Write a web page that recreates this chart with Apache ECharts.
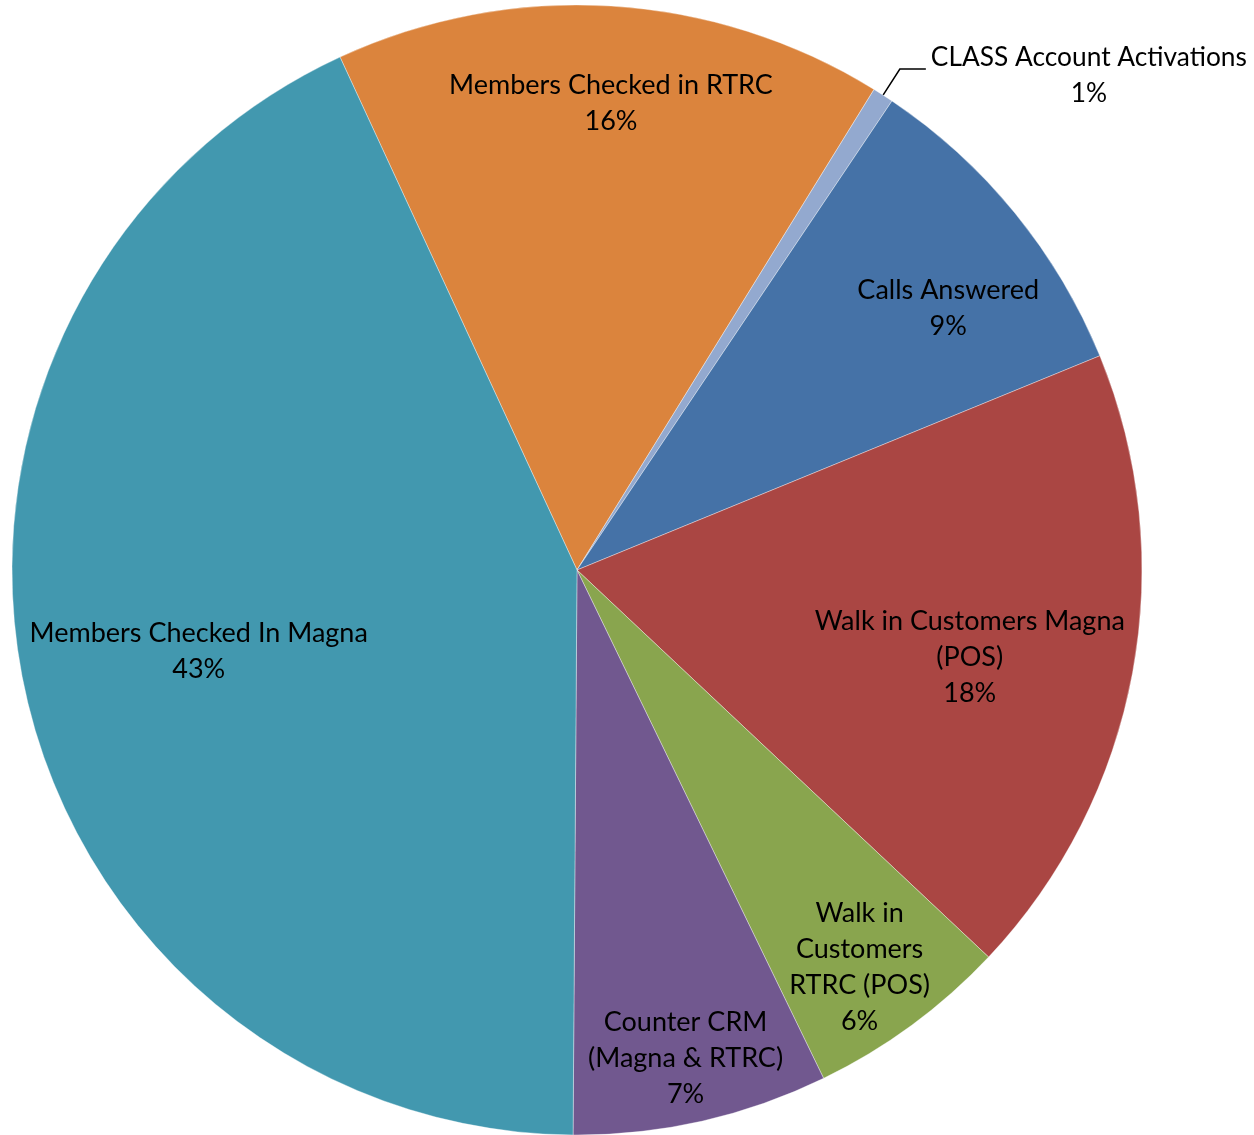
<!DOCTYPE html>
<html>
<head>
<meta charset="utf-8">
<script src="https://cdn.jsdelivr.net/npm/echarts@6/dist/echarts.min.js"></script>
<style>
    html, body { margin: 0; padding: 0; background: #fff; }
    #chart { width: 1254px; height: 1135px; }
</style>
</head>
<body>
<div id="chart"></div>
<script>
// categories in clockwise order, starting with the orange slice
const categories = [
    'Members Checked in RTRC',
    'CLASS Account Activations',
    'Calls Answered',
    'Walk in Customers Magna\n(POS)',
    'Walk in\nCustomers\nRTRC (POS)',
    'Counter CRM\n(Magna & RTRC)',
    'Members Checked In Magna'
]
const values = [15.7, 0.6, 9.4, 18.2, 5.8, 7.3, 43.0]
const colors = ['#DB843D', '#93A9CF', '#4572A7', '#AA4643', '#89A54E', '#71588F', '#4298AF']

// where each inside label sits: share of the radius and a small turn (deg) off the mid angle
const labelRadius = [0.829, null, 0.804, 0.712, 0.863, 0.885, 0.685]
const labelTurn = [0.7, 0, 4.0, 2.0, 0.9, 0.2, 0]

const CX = 577, CY = 570, R = 565
const FONT = 'Lato'

const myChart = echarts.init(document.getElementById('chart'))

const seriesData = categories.map((name, i) => {
    const item = { name: name, value: values[i], itemStyle: { color: colors[i] } }
    if (i === 1) {
        //小扇区标签放外面
        item.label = {
            position: 'outside',
            padding: [13, 0, 0, 0],
            formatter: '{c|CLASS Account Activations}\n{c|{d}%}',
            rich: { c: { align: 'center', fontSize: 26.3, lineHeight: 36, color: '#000', fontFamily: FONT } }
        }
        item.labelLine = { show: true, length: 31, length2: 26, lineStyle: { color: '#000', width: 1.5 } }
    }
    return item
})

const option = {
    animation: false,
    series: [
        {
            type: 'pie',
            center: [CX, CY],
            radius: R,
            startAngle: 114.8,
            clockwise: true,
            avoidLabelOverlap: false,
            percentPrecision: 0,
            itemStyle: { borderColor: 'rgba(255,255,255,0.6)', borderWidth: 0.6 },
            label: {
                show: true,
                position: 'inside',
                formatter: '{b}\n{d}%',
                color: '#000',
                fontFamily: FONT,
                fontSize: 27,
                lineHeight: 36,
                align: 'center'
            },
            labelLine: { show: false },
            labelLayout: function (params) {
                const f = labelRadius[params.dataIndex]
                if (f == null) return {}
                const r = params.labelRect
                const ang = Math.atan2(r.y + r.height / 2 - CY, r.x + r.width / 2 - CX) +
                    labelTurn[params.dataIndex] * Math.PI / 180
                return {
                    x: CX + f * R * Math.cos(ang),
                    y: CY + f * R * Math.sin(ang),
                    align: 'center',
                    verticalAlign: 'middle'
                }
            },
            data: seriesData
        }
    ]
}

myChart.setOption(option)
window.addEventListener('resize', () => myChart.resize())
</script>
</body>
</html>
